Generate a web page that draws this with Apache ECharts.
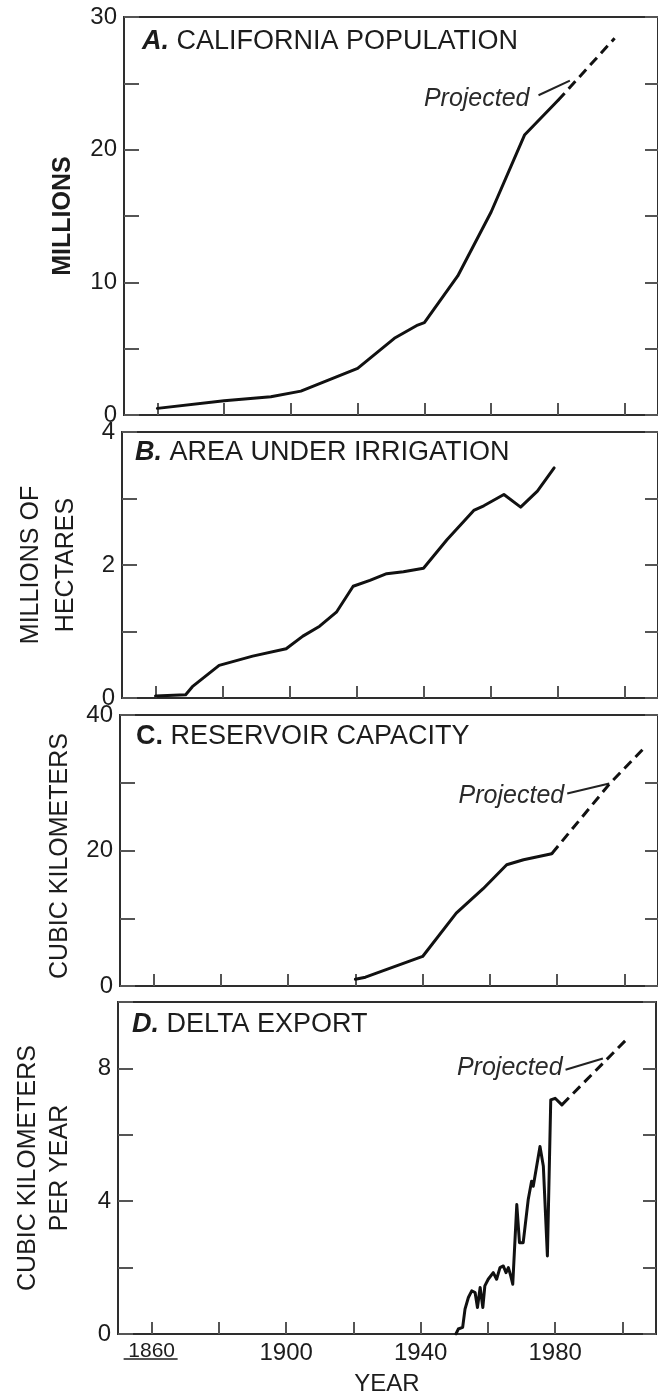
<!DOCTYPE html>
<html><head><meta charset="utf-8">
<script src="https://cdn.jsdelivr.net/npm/echarts@6/dist/echarts.min.js"></script>
<style>html,body{margin:0;padding:0;background:#fff}#c{width:658px;height:1397px}</style>
</head><body><div id="c"></div>
<script>
// ---------- data ----------
const xTickYears = [1860, 1880, 1900, 1920, 1940, 1960, 1980, 2000];
const xLabelYears = [1860, 1900, 1940, 1980];

// A. California population (millions)
const popYears  = [1860, 1880, 1894, 1903, 1920, 1931, 1938, 1940, 1950, 1960, 1970, 1980];
const popValues = [0.5, 1.08, 1.38, 1.8, 3.52, 5.78, 6.78, 6.96, 10.48, 15.3, 21.1, 23.7];
const popProjYears  = [1980, 1997];
const popProjValues = [23.7, 28.4];
const popTicks = [0, 10, 20, 30];

// B. Area under irrigation (millions of hectares)
const irrYears  = [1860, 1869, 1871, 1879, 1889, 1899, 1904, 1909, 1914, 1919, 1924, 1929, 1934, 1940, 1947, 1955, 1958, 1964, 1969, 1974, 1979];
const irrValues = [0.03, 0.05, 0.17, 0.49, 0.63, 0.74, 0.93, 1.08, 1.29, 1.68, 1.77, 1.87, 1.90, 1.95, 2.38, 2.82, 2.89, 3.06, 2.87, 3.11, 3.46];
const irrTicks = [0, 2, 4];

// C. Reservoir capacity (cubic kilometers)
const resYears  = [1920, 1923, 1940, 1950, 1958, 1965, 1970, 1978.4];
const resValues = [1.0, 1.3, 4.36, 10.75, 14.36, 17.9, 18.64, 19.53];
const resProjYears  = [1978.4, 1995.7, 2006.6];
const resProjValues = [19.53, 29.9, 35.5];
const resTicks = [0, 20, 40];

// D. Delta export (cubic kilometers per year)
const expYears  = [1950.5, 1951.2, 1952.5, 1953.2, 1954.2, 1955.2, 1956.2, 1956.9, 1957.7, 1958.5, 1959.1, 1960.1, 1961.6, 1962.6, 1963.6, 1964.6, 1965.4, 1966.1, 1966.8, 1967.4, 1968.6, 1969.4, 1970.5, 1972.0, 1973.0, 1973.5, 1975.5, 1976.5, 1977.7, 1978.7, 1980.0, 1982.0];
const expValues = [0, 0.15, 0.2, 0.75, 1.1, 1.3, 1.25, 0.8, 1.4, 0.8, 1.45, 1.65, 1.85, 1.65, 2.0, 2.05, 1.85, 2.0, 1.75, 1.5, 3.9, 2.75, 2.75, 4.05, 4.6, 4.45, 5.65, 5.05, 2.35, 7.05, 7.1, 6.9];
const expProjYears  = [1982, 2001.5];
const expProjValues = [6.9, 8.9];
const expTicks = [0, 4, 8];

const titles = ['A. CALIFORNIA POPULATION', 'B. AREA UNDER IRRIGATION', 'C. RESERVOIR CAPACITY', 'D. DELTA EXPORT'];
const yNames = ['MILLIONS', 'MILLIONS OF\nHECTARES', 'CUBIC KILOMETERS', 'CUBIC KILOMETERS\nPER YEAR'];
const projectedText = 'Projected';

// ---------- layout / style ----------
const FONT = '"Liberation Sans", Arial, Helvetica, sans-serif';
const INK = '#1c1c1c';
const FRAME = '#2e2e2e';
const TICK = '#555';

const panels = [
  {grid: {left: 124, top: 17, width: 538, height: 398}, max: 30, interval: 5, labels: popTicks, nameGap: 46, nameBold: true, nameLH: 30, namePad: [0,0,0,0], titleTop: 28, titleLeft: 142, italicLetter: true},
  {grid: {left: 122, top: 432, width: 538, height: 266}, max: 4, interval: 1, labels: irrTicks, nameGap: 38, nameBold: false, nameLH: 35, namePad: [0,0,0,0], titleTop: 439, titleLeft: 135, italicLetter: true},
  {grid: {left: 120, top: 715, width: 538, height: 271}, max: 40, interval: 10, labels: resTicks, nameGap: 40, nameBold: false, nameLH: 30, namePad: [0,11,0,0], titleTop: 723, titleLeft: 136, italicLetter: false},
  {grid: {left: 118, top: 1002, width: 538, height: 333}, max: 10, interval: 2, labels: expTicks, nameGap: 42, nameBold: false, nameLH: 32, namePad: [0,0,0,0], titleTop: 1011, titleLeft: 132, italicLetter: true}
];

const zip = (xs, ys) => xs.map((x, i) => [x, ys[i]]);

const grids = panels.map(p => Object.assign({show: true, borderColor: FRAME, borderWidth: 2, backgroundColor: 'transparent'}, p.grid));

const xAxes = panels.map((p, i) => ({
  type: 'value', gridIndex: i, min: 1850, max: 2010,
  axisLine: {show: true, onZero: false, lineStyle: {color: FRAME, width: 2}},
  axisTick: {show: true, inside: true, length: 12, customValues: xTickYears, lineStyle: {color: TICK, width: 2}},
  axisLabel: i === 3 ? {show: true, customValues: xLabelYears, fontFamily: FONT, fontSize: 24, color: INK, margin: 7,
    formatter: v => (v === xLabelYears[0] ? '{s|' + v + '}' : String(v)),
    rich: {s: {fontFamily: FONT, fontSize: 21, color: INK}}} : {show: false},
  splitLine: {show: false},
  name: i === 3 ? 'YEAR' : '', nameLocation: 'middle', nameGap: 38,
  nameTextStyle: {fontFamily: FONT, fontSize: 24, color: INK}
}));

const yLeft = panels.map((p, i) => ({
  type: 'value', gridIndex: i, position: 'left', min: 0, max: p.max, interval: p.interval,
  axisLine: {show: true, lineStyle: {color: FRAME, width: 2}},
  axisTick: {show: true, inside: true, length: 15, lineStyle: {color: TICK, width: 2}},
  axisLabel: {show: true, customValues: p.labels, fontFamily: FONT, fontSize: 24, color: INK, margin: 7},
  splitLine: {show: false},
  name: yNames[i], nameLocation: 'middle', nameRotate: 90, nameGap: p.nameGap,
  nameTextStyle: {fontFamily: FONT, fontSize: 25, color: INK, fontWeight: p.nameBold ? 'bold' : 'normal',
    lineHeight: p.nameLH, align: 'center', padding: p.namePad}
}));

const yRight = panels.map((p, i) => ({
  type: 'value', gridIndex: i, position: 'right', min: 0, max: p.max, interval: p.interval,
  axisLine: {show: true, lineStyle: {color: FRAME, width: 2}},
  axisTick: {show: true, inside: true, length: 13, lineStyle: {color: TICK, width: 2}},
  axisLabel: {show: false}, splitLine: {show: false}
}));

const titleOpts = panels.map((p, i) => {
  const t = titles[i];
  const dot = t.indexOf('.');
  return {
    left: p.titleLeft, top: p.titleTop, padding: 0,
    text: '{L|' + t.slice(0, dot + 1) + '}' + t.slice(dot + 1),
    textStyle: {fontFamily: FONT, fontSize: 27, fontWeight: 'normal', color: INK,
      rich: {L: {fontFamily: FONT, fontSize: 27, fontWeight: 'bold', fontStyle: p.italicLetter ? 'italic' : 'normal', color: INK}}}
  };
});

const solid = (xi, data) => ({
  type: 'line', xAxisIndex: xi, yAxisIndex: xi, data, showSymbol: false, symbol: 'none', silent: true,
  lineStyle: {color: '#111', width: 3, join: 'round', cap: 'round'}, z: 5
});

const projLabel = (anchor, end, offset, dist) => ({
  markLine: {silent: true, symbol: ['none', 'none'], label: {show: false},
    lineStyle: {type: 'solid', color: '#222', width: 2},
    data: [[{coord: anchor}, {coord: end}]]},
  markPoint: {silent: true, symbol: 'circle', symbolSize: 0,
    label: {show: true, position: 'left', distance: dist, offset, formatter: projectedText,
      fontFamily: FONT, fontStyle: 'italic', fontSize: 25, color: '#2a2a2a'},
    data: [{coord: anchor}]}
});

const dashed = (xi, data, anchor, end, offset, dist) => Object.assign({
  type: 'line', xAxisIndex: xi, yAxisIndex: xi, data, showSymbol: false, symbol: 'none', silent: true,
  lineStyle: {color: '#111', width: 3, type: [10, 6]}, z: 5
}, projLabel(anchor, end, offset, dist));

const option = {
  backgroundColor: '#ffffff',
  animation: false,
  title: titleOpts,
  grid: grids,
  xAxis: xAxes,
  yAxis: yLeft.concat(yRight),
  series: [
    solid(0, zip(popYears, popValues)),
    dashed(0, zip(popProjYears, popProjValues), [1974.2, 24.1], [1983.6, 25.2], [0, 4], 9),
    solid(1, zip(irrYears, irrValues)),
    solid(2, zip(resYears, resValues)),
    dashed(2, zip(resProjYears, resProjValues), [1983.0, 28.4], [1995.5, 29.9], [0, 2], 3),
    solid(3, zip(expYears, expValues)),
    dashed(3, zip(expProjYears, expProjValues), [1983.1, 7.96], [1994.2, 8.3], [0, -2], 3)
  ]
};

const chart = echarts.init(document.getElementById('c'), null, {renderer: 'canvas'});
chart.setOption(option);

// underline beneath the first year label of the bottom axis
const ux = chart.convertToPixel({xAxisIndex: 3}, xLabelYears[0]);
const uy = chart.convertToPixel({yAxisIndex: 3}, 0);
chart.setOption({graphic: [{type: 'line', silent: true,
  shape: {x1: ux - 28, y1: uy + 25, x2: ux + 26, y2: uy + 25},
  style: {stroke: INK, lineWidth: 1.5}}]});
</script>
</body></html>
